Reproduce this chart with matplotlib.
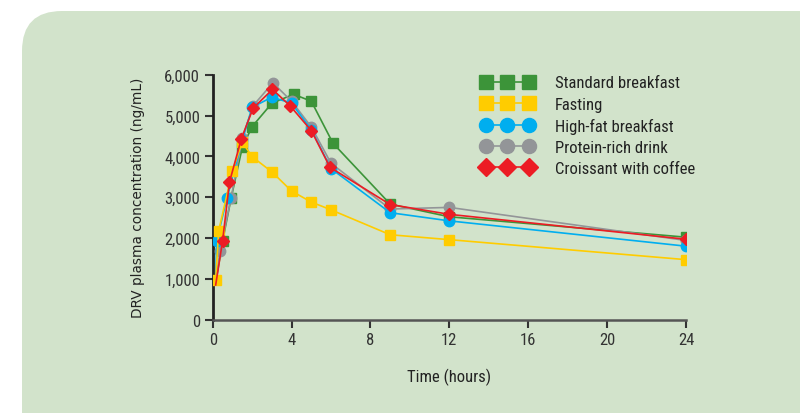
import matplotlib
matplotlib.use('Agg')
import matplotlib.pyplot as plt
from matplotlib.patches import FancyBboxPatch
from matplotlib.legend_handler import HandlerLine2D
from matplotlib.ticker import FuncFormatter

plt.rcParams['font.family'] = ['Roboto Condensed', 'DejaVu Sans']
plt.rcParams['font.stretch'] = 'condensed'

# values
t_standard = [0.15, 0.5, 0.93, 1.5, 2.0, 3.0, 4.1, 5.0, 6.1, 9.0, 12.0, 24.0]
c_standard = [900, 1920, 2970, 4220, 4730, 5300, 5520, 5350, 4320, 2830, 2520, 2020]

t_fasting = [0.15, 0.3, 1.0, 1.5, 2.0, 3.0, 4.0, 5.0, 6.0, 9.0, 12.0, 24.0]
c_fasting = [980, 2170, 3650, 4350, 3990, 3620, 3150, 2880, 2690, 2080, 1960, 1470]

t_highfat = [0.15, 0.2, 0.72, 1.5, 2.0, 3.0, 4.0, 5.0, 6.0, 9.0, 12.0, 24.0]
c_highfat = [950, 1930, 2970, 4400, 5200, 5450, 5300, 4650, 3700, 2620, 2420, 1800]

t_protein = [0.15, 0.37, 0.93, 1.5, 2.05, 3.05, 4.0, 5.0, 6.0, 9.0, 12.0, 24.0]
c_protein = [900, 1690, 2970, 4450, 5240, 5800, 5350, 4720, 3830, 2710, 2750, 1940]

t_croissant = [0.15, 0.5, 0.85, 1.45, 2.05, 3.03, 3.92, 5.0, 5.95, 9.0, 12.0, 24.0]
c_croissant = [850, 1930, 3370, 4430, 5180, 5640, 5240, 4630, 3730, 2820, 2580, 1970]

x_ticks = [0, 4, 8, 12, 16, 20, 24]
y_ticks = [0, 1000, 2000, 3000, 4000, 5000, 6000]

bg = '#d2e3cb'
green = '#3c9439'
yellow = '#ffcc00'
blue = '#00aeef'
gray = '#939598'
red = '#ec1c24'

fig = plt.figure(figsize=(8, 4.14), dpi=100)
fig.patch.set_facecolor('white')
panel = FancyBboxPatch((22 / 800, -0.2), 1.2, (414 - 12) / 414 + 0.2,
                       boxstyle='round,pad=0,rounding_size=0.05',
                       transform=fig.transFigure, facecolor=bg, edgecolor='none',
                       mutation_aspect=800 / 414, zorder=-10)
fig.patches.append(panel)

ax = fig.add_axes([0.2659, 0.2254, 0.5916, 0.5918])
ax.set_facecolor('none')

# first sample of most series sits hidden behind the fasting marker
skip_first = list(range(1, 12))
ax.plot(t_standard, c_standard, color=green, marker='s', ms=7, lw=1.2, markevery=skip_first,
        label='Standard breakfast', zorder=2)
ax.plot(t_protein, c_protein, color=gray, marker='o', ms=7.5, lw=1.2, markevery=skip_first,
        label='Protein-rich drink', zorder=3)
ax.plot(t_highfat, c_highfat, color=blue, marker='o', ms=7.5, lw=1.2, markevery=skip_first,
        label='High-fat breakfast', zorder=4)
ax.plot(t_fasting, c_fasting, color=yellow, marker='s', ms=7.5, lw=1.2, label='Fasting', zorder=6)
ax.plot(t_croissant, c_croissant, color=red, marker='D', ms=6.5, lw=1.2, markevery=skip_first,
        label='Croissant with coffee', zorder=7)

ax.set_xlim(0, 24)
ax.set_ylim(0, 6000)
ax.set_xticks(x_ticks)
ax.set_yticks(y_ticks)
ax.yaxis.set_major_formatter(FuncFormatter(lambda v, p: f'{int(v):,}'))
ax.tick_params(direction='out', length=6, width=1.5, colors='#333333', labelsize=12, pad=3)
for s in ['top', 'right']:
    ax.spines[s].set_visible(False)
ax.spines['left'].set_color('#222222')
ax.spines['left'].set_linewidth(2)
ax.spines['bottom'].set_color('#555555')
ax.spines['bottom'].set_linewidth(1.8)

ax.set_xlabel('Time (hours)', fontsize=12, color='#222222', labelpad=15)
ax.set_ylabel('DRV plasma concentration (ng/mL)', fontsize=9.8, color='#222222',
              family='DejaVu Sans', stretch='normal', labelpad=14)

handles, labels = ax.get_legend_handles_labels()
order = ['Standard breakfast', 'Fasting', 'High-fat breakfast', 'Protein-rich drink', 'Croissant with coffee']
hmap = dict(zip(labels, handles))
leg = fig.legend([hmap[k] for k in order], order, loc='upper left',
                 bbox_to_anchor=(468 / 800, 1 - 76.5 / 414), frameon=False,
                 fontsize=12, borderpad=0, borderaxespad=0, handlelength=4.7, handletextpad=0.5,
                 labelspacing=0.37, markerscale=1.35,
                 handler_map={h: HandlerLine2D(numpoints=3, marker_pad=1.05) for h in handles})
for txt in leg.get_texts():
    txt.set_color('#222222')

fig.savefig('out.png', dpi=100, facecolor=fig.get_facecolor())
